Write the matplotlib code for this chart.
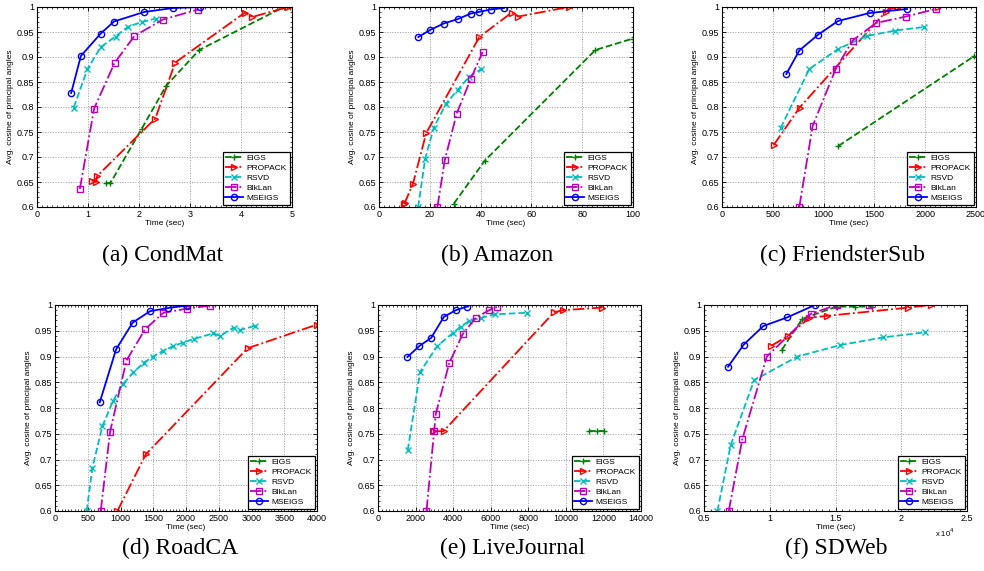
import matplotlib
matplotlib.use("Agg")
from matplotlib import pyplot as plt
from matplotlib.ticker import AutoMinorLocator

# method names and how matlab drew them
methods = ["EIGS", "PROPACK", "RSVD", "BlkLan", "MSEIGS"]
colors = ["#008000", "#ff0000", "#00bfbf", "#bf00bf", "#0000ff"]
styles = ["--", "-.", "--", "-.", "-"]
markers = ["+", ">", "x", "s", "o"]

# (a) CondMat
condmat_x = {
    "EIGS": [1.36, 1.44, 2.05, 2.53, 3.18, 4.84, 4.97],
    "PROPACK": [1.07, 1.16, 1.18, 2.32, 2.71, 4.08, 4.22, 4.92],
    "RSVD": [0.72, 0.99, 1.25, 1.54, 1.79, 2.06, 2.33],
    "BlkLan": [0.84, 1.12, 1.52, 1.91, 2.47, 3.16],
    "MSEIGS": [0.67, 0.86, 1.25, 1.51, 2.10, 2.67, 3.20],
}
condmat_y = {
    "EIGS": [0.648, 0.648, 0.756, 0.842, 0.914, 1.0, 1.0],
    "PROPACK": [0.653, 0.650, 0.662, 0.777, 0.889, 0.989, 0.980, 1.0],
    "RSVD": [0.799, 0.876, 0.920, 0.941, 0.961, 0.970, 0.977],
    "BlkLan": [0.636, 0.797, 0.888, 0.942, 0.975, 0.995],
    "MSEIGS": [0.828, 0.902, 0.947, 0.971, 0.990, 0.998, 1.0],
}

# (b) Amazon
amazon_x = {
    "EIGS": [29.5, 41.7, 85.2, 100.0],
    "PROPACK": [9.7, 10.2, 13.4, 18.6, 39.5, 52.3, 54.9, 74.8],
    "RSVD": [15.4, 18.2, 21.6, 26.4, 31.1, 35.6, 40.3],
    "BlkLan": [23.0, 25.9, 30.6, 36.2, 40.8],
    "MSEIGS": [15.5, 20.1, 25.5, 31.1, 36.2, 39.2, 44.0, 49.2],
}
amazon_y = {
    "EIGS": [0.607, 0.693, 0.914, 0.937],
    "PROPACK": [0.607, 0.609, 0.647, 0.748, 0.940, 0.989, 0.981, 1.0],
    "RSVD": [0.600, 0.697, 0.759, 0.807, 0.835, 0.861, 0.876],
    "BlkLan": [0.600, 0.694, 0.787, 0.857, 0.910],
    "MSEIGS": [0.940, 0.954, 0.967, 0.976, 0.987, 0.990, 0.995, 0.998],
}

# (c) FriendsterSub
friend_x = {
    "EIGS": [1145, 2484],
    "PROPACK": [509, 764, 1610, 1660, 1720, 2130],
    "RSVD": [577, 860, 1142, 1424, 1706, 1991],
    "BlkLan": [761, 892, 1119, 1286, 1516, 1811, 2106],
    "MSEIGS": [633, 761, 948, 1142, 1453, 1821],
}
friend_y = {
    "EIGS": [0.722, 0.902],
    "PROPACK": [0.724, 0.799, 0.990, 1.0, 1.0, 1.0],
    "RSVD": [0.758, 0.876, 0.916, 0.942, 0.953, 0.960],
    "BlkLan": [0.600, 0.762, 0.876, 0.933, 0.968, 0.981, 0.996],
    "MSEIGS": [0.866, 0.913, 0.945, 0.972, 0.988, 0.996],
}

# (d) RoadCA  (EIGS has no point inside the range)
road_x = {
    "EIGS": [],
    "PROPACK": [953, 1386, 2940, 4000],
    "RSVD": [484, 571, 724, 887, 1034, 1197, 1355, 1498, 1651, 1804, 1952,
             2120, 2415, 2517, 2726, 2823, 3058],
    "BlkLan": [698, 841, 1090, 1376, 1656, 2018, 2374],
    "MSEIGS": [683, 933, 1187, 1452, 1722, 2013],
}
road_y = {
    "EIGS": [],
    "PROPACK": [0.600, 0.710, 0.916, 0.962],
    "RSVD": [0.600, 0.684, 0.765, 0.814, 0.846, 0.869, 0.888, 0.900, 0.911,
             0.920, 0.927, 0.934, 0.945, 0.940, 0.956, 0.951, 0.960],
    "BlkLan": [0.600, 0.754, 0.892, 0.953, 0.985, 0.993, 0.999],
    "MSEIGS": [0.811, 0.914, 0.966, 0.988, 0.994, 0.999],
}

# (e) LiveJournal
lj_x = {
    "EIGS": [11207, 11652, 12008],
    "PROPACK": [2953, 3487, 9375, 9873, 11919],
    "RSVD": [1583, 2241, 3149, 3967, 4394, 4856, 5479, 6244, 7934],
    "BlkLan": [2580, 2989, 3078, 3790, 4501, 5194, 5923, 6332],
    "MSEIGS": [1565, 2188, 2829, 3505, 4145, 4749],
}
lj_y = {
    "EIGS": [0.755, 0.755, 0.755],
    "PROPACK": [0.755, 0.755, 0.986, 0.990, 0.995],
    "RSVD": [0.718, 0.870, 0.920, 0.945, 0.958, 0.969, 0.975, 0.982, 0.985],
    "BlkLan": [0.600, 0.755, 0.789, 0.887, 0.943, 0.975, 0.990, 0.996],
    "MSEIGS": [0.899, 0.920, 0.936, 0.977, 0.990, 0.997],
}

# (f) SDWeb  (x in units of 1e4 sec)
sd_x = {
    "EIGS": [1.092, 1.247, 1.509, 1.649, 1.781],
    "PROPACK": [1.013, 1.138, 1.301, 1.438, 2.055, 2.223],
    "RSVD": [0.602, 0.703, 0.881, 1.211, 1.534, 1.860, 2.182],
    "BlkLan": [0.688, 0.792, 0.978, 1.313, 1.509, 1.758],
    "MSEIGS": [0.683, 0.802, 0.950, 1.133, 1.344],
}
sd_y = {
    "EIGS": [0.913, 0.973, 0.997, 0.997, 0.997],
    "PROPACK": [0.921, 0.940, 0.975, 0.979, 0.995, 1.0],
    "RSVD": [0.600, 0.728, 0.854, 0.900, 0.922, 0.937, 0.947],
    "BlkLan": [0.600, 0.740, 0.900, 0.983, 1.0, 1.0],
    "MSEIGS": [0.880, 0.923, 0.959, 0.976, 1.0],
}

panels = [
    ("(a) CondMat", condmat_x, condmat_y, (0, 5), [0, 1, 2, 3, 4, 5]),
    ("(b) Amazon", amazon_x, amazon_y, (0, 100), [0, 20, 40, 60, 80, 100]),
    ("(c) FriendsterSub", friend_x, friend_y, (0, 2500), [0, 500, 1000, 1500, 2000, 2500]),
    ("(d) RoadCA", road_x, road_y, (0, 4000), list(range(0, 4001, 500))),
    ("(e) LiveJournal", lj_x, lj_y, (0, 14000), list(range(0, 14001, 2000))),
    ("(f) SDWeb", sd_x, sd_y, (0.5, 2.5), [0.5, 1, 1.5, 2, 2.5]),
]

# axes boxes in pixels: left, top, width, height
boxes = [
    (37, 7, 255, 200), (379, 7, 254, 200), (722, 7, 254, 200),
    (55, 305, 262, 206), (378, 305, 263, 206), (704, 305, 263, 206),
]
caption_pos = [(163, 255), (497, 255), (842, 255), (180, 548), (513, 548), (836, 548)]

W, H = 984, 571
fig = plt.figure(figsize=(W / 100, H / 100), dpi=100)
plt.rcParams['font.family'] = ['Liberation Sans', 'DejaVu Sans']

yticks = [0.6, 0.65, 0.7, 0.75, 0.8, 0.85, 0.9, 0.95, 1]

for (title, xs, ys, xlim, xticks), (l, t, w, h), (cx, cy) in zip(panels, boxes, caption_pos):
    ax = fig.add_axes([l / W, 1 - (t + h) / H, w / W, h / H])
    for m, c, ls, mk in zip(methods, colors, styles, markers):
        ax.plot(xs[m], ys[m], color=c, linestyle=ls, marker=mk, markersize=4.5,
                markerfacecolor='none', markeredgewidth=1, linewidth=1.3,
                label=m, clip_on=True)
    ax.set_xlim(*xlim)
    ax.set_ylim(0.6, 1)
    ax.set_xticks(xticks)
    ax.set_xticklabels([("%g" % v) for v in xticks])
    ax.set_yticks(yticks)
    ax.set_yticklabels([("%g" % v) for v in yticks])
    ax.xaxis.set_minor_locator(AutoMinorLocator(10))
    ax.yaxis.set_minor_locator(AutoMinorLocator(5))
    ax.tick_params(which='both', direction='in', top=True, right=True, labelsize=6.5, pad=2)
    ax.tick_params(which='major', length=3, width=0.6)
    ax.tick_params(which='minor', length=1.5, width=0.5)
    ax.grid(True, linestyle=':', color='#999999', linewidth=0.7)
    for s in ax.spines.values():
        s.set_linewidth(0.8)
    ax.set_xlabel("Time (sec)", fontsize=6, labelpad=1)
    ax.set_ylabel("Avg. cosine of principal angles", fontsize=6, labelpad=2)
    leg = ax.legend(loc='lower right', fontsize=6, fancybox=False, framealpha=1,
                    edgecolor='black', borderaxespad=0.3, handlelength=2.2,
                    labelspacing=0.25, borderpad=0.3, handletextpad=0.4)
    leg.get_frame().set_linewidth(0.9)
    fig.text(cx / W, 1 - cy / H, title, ha='center', va='center',
             fontsize=17, family='Liberation Serif')

fig.text(945 / W, 1 - 533 / H, r"x 10$^4$", fontsize=5.5, ha='center', va='center')

fig.savefig("out.png", dpi=100)
